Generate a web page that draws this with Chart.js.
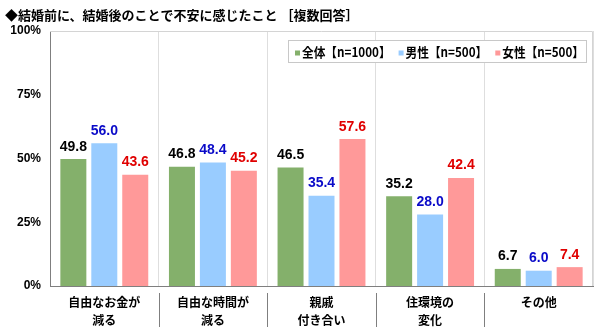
<!DOCTYPE html>
<html lang="ja">
<head>
<meta charset="UTF-8">
<title>結婚前に、結婚後のことで不安に感じたこと</title>
<script src="https://cdn.jsdelivr.net/npm/chart.js"></script>
<style>
  html, body { margin: 0; padding: 0; background: #fff; }
  #wrap { width: 600px; height: 327px; }
</style>
</head>
<body>
<div id="wrap"><canvas id="chart" width="600" height="327"></canvas></div>
<script>
// chart data
const categories = [
  ['自由なお金が', '減る'],
  ['自由な時間が', '減る'],
  ['親戚', '付き合い'],
  ['住環境の', '変化'],
  ['その他']
];
const seriesNames = ['全体【n=1000】', '男性【n=500】', '女性【n=500】'];
const totalValues = [49.8, 46.8, 46.5, 35.2, 6.7];
const maleValues = [56.0, 48.4, 35.4, 28.0, 6.0];
const femaleValues = [43.6, 45.2, 57.6, 42.4, 7.4];
const yTicks = [0, 25, 50, 75, 100];

const titleText = '◆結婚前に、結婚後のことで不安に感じたこと ［複数回答］';
const jpFont = '"Noto Sans CJK JP", "Noto Sans", sans-serif';
const numFont = '"Liberation Sans", Arial, sans-serif';

const barColors = ['#84b06b', '#99ccff', '#ff9999'];
const labelColors = ['#000000', '#0a0ac8', '#e00000'];

// title, plot border, category separators
const framePlugin = {
  id: 'frame',
  beforeDatasetsDraw(chart) {
    const { ctx, chartArea: a } = chart;
    ctx.save();
    ctx.strokeStyle = '#d4d4d4';
    ctx.lineWidth = 1;
    ctx.beginPath();
    ctx.moveTo(a.left, a.top + 0.5);
    ctx.lineTo(a.right - 0.5, a.top + 0.5);
    ctx.lineTo(a.right - 0.5, a.bottom);
    ctx.stroke();
    ctx.restore();
  },
  afterDraw(chart) {
    const { ctx, chartArea: a } = chart;
    const x = chart.scales.x;
    ctx.save();
    ctx.fillStyle = '#000';
    ctx.font = 'bold 13px ' + jpFont;
    ctx.textBaseline = 'middle';
    ctx.textAlign = 'left';
    ctx.fillText(titleText, 5, 15);

    // separators under the axis
    ctx.strokeStyle = '#7f7f7f';
    ctx.lineWidth = 1;
    for (let i = 0; i < categories.length - 1; i++) {
      const px = Math.round((x.getPixelForValue(i) + x.getPixelForValue(i + 1)) / 2) + 0.5;
      ctx.beginPath();
      ctx.moveTo(px, a.bottom + 7);
      ctx.lineTo(px, chart.height);
      ctx.stroke();
    }
    ctx.restore();
  }
};

// values above bars
const valueLabels = {
  id: 'valueLabels',
  afterDatasetsDraw(chart) {
    const { ctx } = chart;
    ctx.save();
    ctx.font = 'bold 14px ' + numFont;
    ctx.textAlign = 'center';
    ctx.textBaseline = 'alphabetic';
    chart.data.datasets.forEach((ds, di) => {
      const meta = chart.getDatasetMeta(di);
      ctx.fillStyle = labelColors[di];
      meta.data.forEach((bar, i) => {
        ctx.fillText(ds.data[i].toFixed(1), bar.x, bar.y - 8.5);
      });
    });
    ctx.restore();
  }
};

// boxed legend inside the plot
const boxLegend = {
  id: 'boxLegend',
  afterDraw(chart) {
    const { ctx } = chart;
    const box = { left: 288, top: 40, right: 587, bottom: 63 };
    ctx.save();
    ctx.fillStyle = '#fff';
    ctx.fillRect(box.left, box.top, box.right - box.left, box.bottom - box.top);
    ctx.strokeStyle = '#c8c8c8';
    ctx.lineWidth = 1;
    ctx.strokeRect(box.left + 0.5, box.top + 0.5, box.right - box.left - 1, box.bottom - box.top - 1);
    ctx.font = 'bold 13px ' + jpFont;
    ctx.textBaseline = 'middle';
    ctx.textAlign = 'left';
    const dsets = chart.data.datasets;
    const widths = dsets.map(ds => ctx.measureText(ds.label).width);
    const startX = 295, endX = 584, mark = 7, gap = 8;
    const avail = endX - startX - dsets.length * mark - (dsets.length - 1) * gap;
    const k = Math.min(1, avail / widths.reduce((s, w) => s + w, 0));
    let x = startX;
    const cy = (box.top + box.bottom) / 2 + 1;
    dsets.forEach((ds, i) => {
      ctx.fillStyle = ds.backgroundColor;
      ctx.fillRect(x, cy - 2, 5, 5);
      ctx.fillStyle = '#000';
      ctx.save();
      ctx.translate(x + mark, cy);
      ctx.scale(k, 1);
      ctx.fillText(ds.label, 0, 0);
      ctx.restore();
      x += mark + widths[i] * k + gap;
    });
    ctx.restore();
  }
};

new Chart(document.getElementById('chart'), {
  type: 'bar',
  data: {
    labels: categories,
    datasets: [
      { label: seriesNames[0], data: totalValues, backgroundColor: barColors[0] },
      { label: seriesNames[1], data: maleValues, backgroundColor: barColors[1] },
      { label: seriesNames[2], data: femaleValues, backgroundColor: barColors[2] }
    ]
  },
  options: {
    responsive: false,
    animation: false,
    devicePixelRatio: 1,
    layout: { padding: { top: 31, right: 7, left: 0, bottom: 0 } },
    datasets: { bar: { categoryPercentage: 0.855, barPercentage: 0.84 } },
    plugins: {
      legend: { display: false },
      title: { display: false },
      tooltip: { enabled: false }
    },
    scales: {
      x: {
        grid: {
          offset: true,
          drawTicks: false,
          color: (c) => (c.index === 0 || c.index === categories.length) ? 'rgba(0,0,0,0)' : '#dedede'
        },
        border: { display: true, color: '#7f7f7f', width: 1 },
        ticks: {
          padding: 7,
          color: '#000',
          maxRotation: 0,
          autoSkip: false,
          font: { family: jpFont, size: 12, weight: 'bold', lineHeight: 1.5 }
        },
        afterFit(scale) { scale.height = 41; }
      },
      y: {
        min: 0,
        max: 100,
        afterBuildTicks(scale) { scale.ticks = yTicks.map(v => ({ value: v })); },
        grid: { display: false, drawTicks: false },
        border: { display: true, color: '#7f7f7f', width: 1 },
        ticks: {
          padding: 9,
          color: '#000',
          font: { family: numFont, size: 12, weight: 'bold' },
          callback: (v) => v + '%'
        },
        afterFit(scale) { scale.width = 50; }
      }
    }
  },
  plugins: [framePlugin, valueLabels, boxLegend]
});
</script>
</body>
</html>
